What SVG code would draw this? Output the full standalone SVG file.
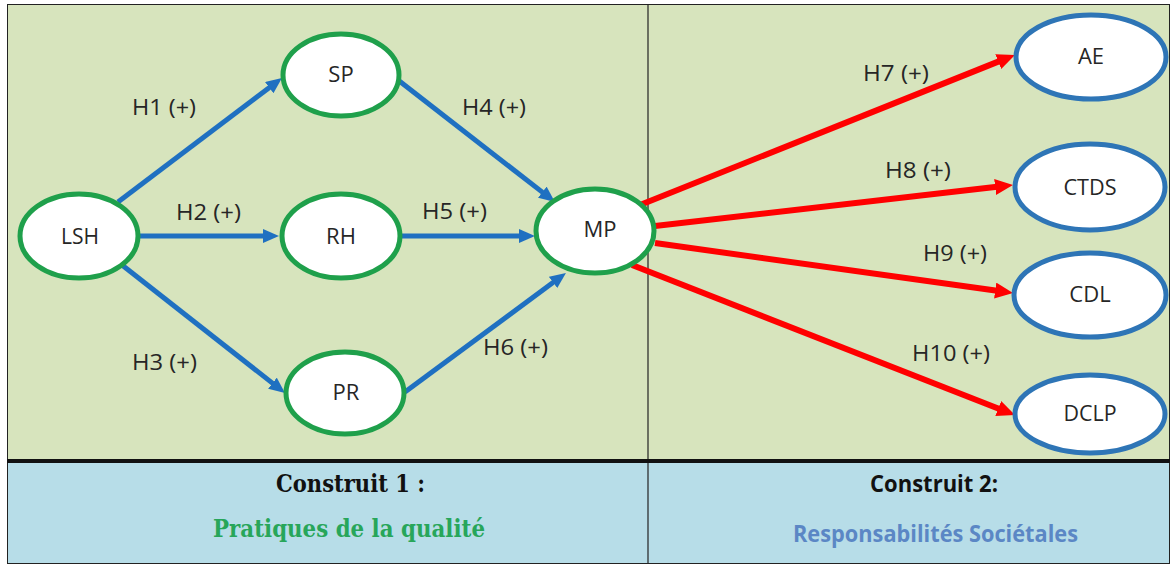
<svg xmlns="http://www.w3.org/2000/svg" width="1173" height="564" viewBox="0 0 1173 564">
  <defs>
    <marker id="ab" markerUnits="userSpaceOnUse" markerWidth="18" markerHeight="16" refX="2" refY="7" orient="auto">
      <path d="M0,0 L16,7 L0,14 z" fill="#1f70c1"/>
    </marker>
    <marker id="ar" markerUnits="userSpaceOnUse" markerWidth="20" markerHeight="18" refX="2" refY="8" orient="auto">
      <path d="M0,0 L18,8 L0,16 z" fill="#ff0000"/>
    </marker>
    <style>
      .eb { stroke: #1f70c1; stroke-width: 5; fill: none; }
      .er { stroke: #ff0000; stroke-width: 6; fill: none; }
      .ng { fill: #ffffff; stroke: #1fa04b; stroke-width: 5; }
      .nb { fill: #ffffff; stroke: #2e75b6; stroke-width: 5; }
      .nt { font-family: "Open Sans", "Liberation Sans", sans-serif; font-size: 22px; fill: #262626; text-anchor: middle; }
      .lb { font-family: "Open Sans", "Liberation Sans", sans-serif; font-size: 22px; fill: #262626; }
      .t1 { font-family: "DejaVu Serif", "Liberation Serif", serif; font-weight: bold; font-size: 24px; }
      .t2 { font-family: "Open Sans", "Liberation Sans", sans-serif; font-weight: bold; font-size: 23px; }
    </style>
  </defs>

  <!-- background panels -->
  <rect x="7" y="4" width="1163" height="457" fill="#d7e4bd"/>
  <rect x="7" y="461" width="1163" height="103" fill="#b7dde8"/>
  <rect x="7.5" y="4.5" width="1162" height="559" fill="none" stroke="#222" stroke-width="1"/>
  <line x1="648" y1="4" x2="648" y2="564" stroke="#222" stroke-width="1.2"/>
  <line x1="7" y1="461" x2="1170" y2="461" stroke="#111" stroke-width="4"/>

  <!-- connectors -->
  <g id="connectors">
    <line class="eb" x1="118" y1="202" x2="270.8" y2="86.4" marker-end="url(#ab)"/>
    <line class="eb" x1="138" y1="236" x2="265" y2="236" marker-end="url(#ab)"/>
    <line class="eb" x1="122" y1="265" x2="274" y2="384.4" marker-end="url(#ab)"/>
    <line class="eb" x1="398" y1="80" x2="543.9" y2="193.4" marker-end="url(#ab)"/>
    <line class="eb" x1="400" y1="236" x2="521" y2="236" marker-end="url(#ab)"/>
    <line class="eb" x1="405" y1="392" x2="554.7" y2="281.3" marker-end="url(#ab)"/>
    <line class="er" x1="640" y1="205" x2="1000.1" y2="60.9" marker-end="url(#ar)"/>
    <line class="er" x1="655" y1="226" x2="997.1" y2="186.8" marker-end="url(#ar)"/>
    <line class="er" x1="655" y1="243" x2="997.2" y2="290.8" marker-end="url(#ar)"/>
    <line class="er" x1="632" y1="265" x2="1000.1" y2="409.2" marker-end="url(#ar)"/>
    <text class="lb" x="132" y="115" textLength="64" lengthAdjust="spacingAndGlyphs">H1 (+)</text>
    <text class="lb" x="176" y="220" textLength="65" lengthAdjust="spacingAndGlyphs">H2 (+)</text>
    <text class="lb" x="132" y="370" textLength="65" lengthAdjust="spacingAndGlyphs">H3 (+)</text>
    <text class="lb" x="462" y="115" textLength="64" lengthAdjust="spacingAndGlyphs">H4 (+)</text>
    <text class="lb" x="422" y="219" textLength="65" lengthAdjust="spacingAndGlyphs">H5 (+)</text>
    <text class="lb" x="483" y="355" textLength="65" lengthAdjust="spacingAndGlyphs">H6 (+)</text>
    <text class="lb" x="863" y="81" textLength="66" lengthAdjust="spacingAndGlyphs">H7 (+)</text>
    <text class="lb" x="885" y="178" textLength="66" lengthAdjust="spacingAndGlyphs">H8 (+)</text>
    <text class="lb" x="923" y="261" textLength="64" lengthAdjust="spacingAndGlyphs">H9 (+)</text>
    <text class="lb" x="912" y="361" textLength="78" lengthAdjust="spacingAndGlyphs">H10 (+)</text>
  </g>

  <!-- nodes -->
  <g id="node-LSH"><ellipse class="ng" cx="79" cy="236" rx="59" ry="42"/><text class="nt" x="80" y="244" textLength="38" lengthAdjust="spacingAndGlyphs">LSH</text></g>
  <g id="node-SP"><ellipse class="ng" cx="341" cy="75" rx="58" ry="41"/><text class="nt" x="341" y="82">SP</text></g>
  <g id="node-RH"><ellipse class="ng" cx="341" cy="236" rx="59" ry="42"/><text class="nt" x="341" y="244">RH</text></g>
  <g id="node-PR"><ellipse class="ng" cx="345" cy="393" rx="59" ry="41"/><text class="nt" x="346" y="400">PR</text></g>
  <g id="node-MP"><ellipse class="ng" cx="595" cy="231" rx="59" ry="42"/><text class="nt" x="600" y="237">MP</text></g>
  <g id="node-AE"><ellipse class="nb" cx="1091" cy="57" rx="75" ry="42"/><text class="nt" x="1091" y="64">AE</text></g>
  <g id="node-CTDS"><ellipse class="nb" cx="1090" cy="187" rx="75" ry="43"/><text class="nt" x="1090" y="195" textLength="53" lengthAdjust="spacingAndGlyphs">CTDS</text></g>
  <g id="node-CDL"><ellipse class="nb" cx="1090" cy="295" rx="76" ry="42"/><text class="nt" x="1090" y="302">CDL</text></g>
  <g id="node-DCLP"><ellipse class="nb" cx="1090" cy="414" rx="75" ry="39"/><text class="nt" x="1090" y="421" textLength="53" lengthAdjust="spacingAndGlyphs">DCLP</text></g>

  <!-- construct captions -->
  <g id="caption-1">
    <text class="t1" x="276" y="492" fill="#111" textLength="149" lengthAdjust="spacingAndGlyphs">Construit 1 :</text>
    <text class="t1" x="213" y="537" fill="#27a65a" textLength="272" lengthAdjust="spacingAndGlyphs">Pratiques de la qualité</text>
  </g>
  <g id="caption-2">
    <text class="t2" x="870" y="492" fill="#111" textLength="128" lengthAdjust="spacingAndGlyphs">Construit 2:</text>
    <text class="t2" x="793" y="542" fill="#5b87c5" textLength="285" lengthAdjust="spacingAndGlyphs">Responsabilités Sociétales</text>
  </g>
</svg>
